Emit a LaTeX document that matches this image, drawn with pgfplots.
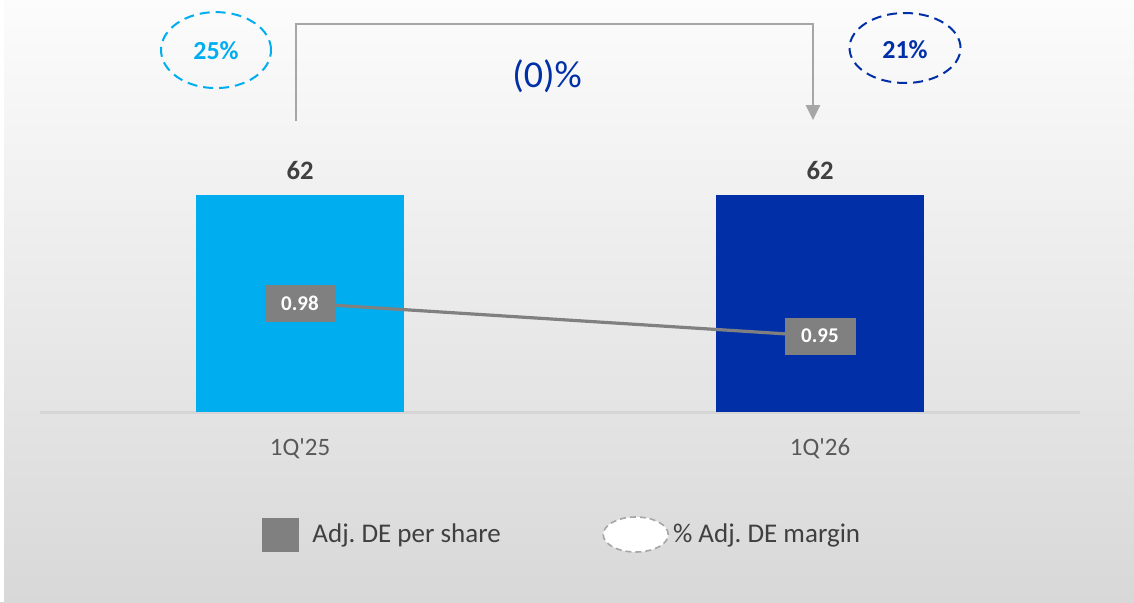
\documentclass[border=0pt]{standalone}
\usepackage{pgfplots}
\pgfplotsset{compat=1.18}
\usepackage{fontspec}
\setmainfont{Carlito}
\usetikzlibrary{arrows.meta}
\definecolor{lblue}{RGB}{0,174,239}
\definecolor{dblue}{RGB}{0,47,167}
\definecolor{boxgray}{RGB}{128,128,128}
\definecolor{brgray}{RGB}{166,166,166}
\definecolor{txtdark}{RGB}{64,64,64}
\definecolor{txtgray}{RGB}{89,89,89}
\definecolor{bgtop}{RGB}{252,252,252}
\definecolor{bgbot}{RGB}{216,216,216}
\definecolor{baseln}{RGB}{214,214,214}
\begin{document}
\begin{tikzpicture}
\shade[top color=bgtop, bottom color=bgbot] (0,0) rectangle (567pt,301pt);
\fill[white] (0,0) rectangle (2pt,301pt);
\begin{axis}[
  at={(20pt,95pt)}, anchor=south west,
  scale only axis, width=520pt, height=175pt,
  xmin=-0.5, xmax=1.5, ymin=0, ymax=100,
  clip=false,
  /pgf/number format/assume math mode=true,
  axis y line=none,
  axis x line*=bottom,
  x axis line style={draw=baseln, line width=1.5pt, -},
  xtick={0,1}, xticklabels={1Q\textquotesingle25, 1Q\textquotesingle26},
  major tick length=0pt,
  xticklabel style={font=\fontsize{12.5}{15}\selectfont, text=txtgray, yshift=-10pt},
  ytick=\empty,
  legend style={at={(0.2135,-0.35)}, anchor=west, draw=none, fill=none,
    inner sep=0pt, legend columns=2, font=\fontsize{13.5}{15}\selectfont, text=txtdark,
    cells={anchor=west}},
]
\addplot[ybar, bar width=0.4, bar shift=0pt, fill=lblue, draw=none, forget plot,
  nodes near coords, nodes near coords style={anchor=center, yshift=12pt, text=txtdark, font=\bfseries\fontsize{13.3}{15}\selectfont}]
  coordinates {(0,62)};
\addplot[ybar, bar width=0.4, bar shift=0pt, fill=dblue, draw=none, forget plot,
  nodes near coords, nodes near coords style={anchor=center, yshift=12pt, text=txtdark, font=\bfseries\fontsize{13.3}{15}\selectfont}]
  coordinates {(1,62)};
\addlegendimage{legend image code/.code={\fill[boxgray] (0pt,-8.25pt) rectangle (18pt,8.25pt); \path (22.6pt,0pt);}}
\addlegendentry{Adj.\ DE per share}
\addlegendimage{legend image code/.code={\path (-49pt,0pt); \draw[brgray, line width=0.8pt, dash pattern=on 3pt off 2pt, fill=white] (16.25pt,0pt) ellipse [x radius=16.25pt, y radius=8.75pt];}}
\addlegendentry{\% Adj.\ DE margin}
% margin ellipses
\draw[lblue, line width=1pt, dash pattern=on 5pt off 3pt] (axis cs:-0.1615,103.4) ellipse [x radius=27.5pt, y radius=19pt];
\node[text=lblue, font=\bfseries\fontsize{13}{15}\selectfont] at (axis cs:-0.1615,103.2) {25\%};
\draw[dblue, line width=1pt, dash pattern=on 5pt off 3pt] (axis cs:1.1635,104) ellipse [x radius=27.75pt, y radius=17.5pt];
\node[text=dblue, font=\bfseries\fontsize{13}{15}\selectfont] at (axis cs:1.1635,103.4) {21\%};
% bracket arrow
\draw[brgray, line width=1.2pt, -{Triangle[width=7pt,length=7.5pt]}] (axis cs:-0.0077,83.1) |- (axis cs:0.9865,110.9) -- (axis cs:0.9865,83.4);
\node[text=dblue, font=\fontsize{19}{21}\selectfont] at (axis cs:0.475,95.9) {(0)\%};
\end{axis}
\begin{axis}[
  at={(20pt,95pt)}, anchor=south west,
  scale only axis, width=520pt, height=175pt,
  xmin=-0.5, xmax=1.5, ymin=0.881, ymax=1.199,
  hide axis, clip=false,
]
\addplot[boxgray, line width=1.6pt, no marks,
  nodes near coords={\pgfmathprintnumber[assume math mode=true,fixed,fixed zerofill,precision=2]{\pgfplotspointmeta}},
  point meta=y,
  nodes near coords style={anchor=center, fill=boxgray, text=white, inner sep=0pt,
    minimum width=35.5pt, minimum height=18.5pt, font=\bfseries\fontsize{10.5}{12}\selectfont}]
  coordinates {(0,0.98) (1,0.95)};
\end{axis}
\pgfresetboundingbox
\useasboundingbox (0,0) rectangle (567pt,301pt);
\end{tikzpicture}
\end{document}
